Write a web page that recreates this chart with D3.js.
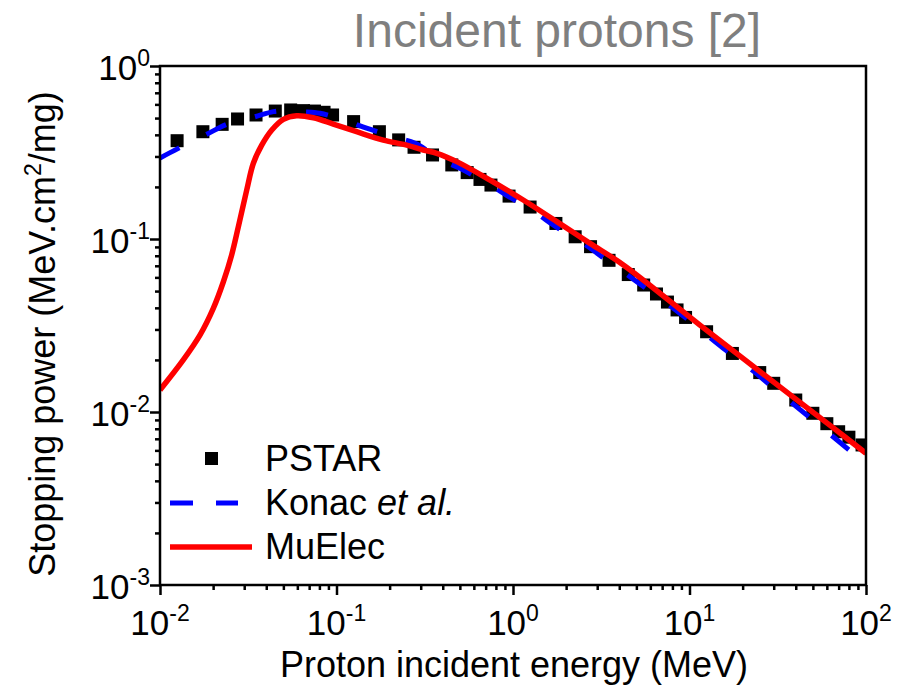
<!DOCTYPE html>
<html><head><meta charset="utf-8">
<script src="https://cdn.jsdelivr.net/npm/d3@7"></script>
<style>
html,body{margin:0;padding:0;background:#fff;}
text{font-family:"Liberation Sans",Arial,sans-serif;}
</style></head>
<body><svg id="c" width="899" height="696"></svg>
<script>
// ---- data ----
const pstarE = [0.0125,0.0175,0.0225,0.0275,0.035,0.045,0.055,0.065,0.075,0.085,0.095,0.125,0.175,0.225,0.275,0.35,0.45,0.55,0.65,0.75,0.95,1.25,1.75,2.25,2.75,3.5,4.5,5.5,6.5,7.5,8.5,9.5,12.5,17.5,25,30,40,50,60,70,80,95];
const pstarS = [0.370,0.417,0.460,0.494,0.521,0.549,0.557,0.552,0.549,0.540,0.521,0.477,0.417,0.374,0.339,0.306,0.268,0.242,0.221,0.205,0.177,0.153,0.123,0.103,0.0903,0.0753,0.0623,0.0542,0.0481,0.0432,0.0389,0.0352,0.0291,0.0218,0.0169,0.01465,0.01173,0.00983,0.00856,0.00769,0.00715,0.00645];

const konacE = [0.01,0.0127,0.0184,0.0239,0.0345,0.0439,0.055,0.0635,0.0807,0.117,0.148,0.219,0.279,0.394,0.501,0.741,0.920,1.36,1.69,2.50,3.18,4.60,5.85,8.45,10.7,15.6,19.8,28.6,36.3,52.6,66.7,100];
const konacS = [0.294,0.334,0.403,0.460,0.509,0.545,0.552,0.545,0.533,0.477,0.437,0.385,0.357,0.286,0.256,0.205,0.179,0.141,0.1205,0.0944,0.0791,0.0605,0.0507,0.0385,0.0318,0.0233,0.01954,0.01432,0.01172,0.00861,0.00705,0.00500];

const muE = [0.01,0.01355,0.01687,0.02004,0.02286,0.02547,0.0278,0.0310,0.0338,0.0377,0.0430,0.0500,0.0594,0.0740,0.0959,0.130,0.184,0.250,0.310,0.370,0.480,0.741,1.143,1.77,2.73,4.22,11.46,27.35,65.3,100];
const muS = [0.0134,0.0200,0.0279,0.0397,0.0566,0.0809,0.1178,0.192,0.274,0.349,0.427,0.492,0.516,0.502,0.462,0.417,0.373,0.349,0.327,0.313,0.280,0.219,0.168,0.126,0.0944,0.0708,0.0318,0.0160,0.00809,0.00577];

const xMajor = [0.01,0.1,1,10,100];
const xExp = ["-2","-1","0","1","2"];
const yMajor = [0.001,0.01,0.1,1];
const yExp = ["-3","-2","-1","0"];

const titleText = "Incident protons [2]";
const xTitle = "Proton incident energy (MeV)";

// ---- layout ----
const L=160, R=866, T=66, B=585;
const svg = d3.select("#c");
const x = d3.scaleLog().domain([0.01,100]).range([L,R]);
const y = d3.scaleLog().domain([0.001,1]).range([B,T]);

function minors(lo,hi){const m=[];for(let p=lo;p<hi;p++){for(let k=2;k<=9;k++)m.push(k*Math.pow(10,p));}return m;}
const xMinor = minors(-2,2), yMinor = minors(-3,0);

// clip
svg.append("defs").append("clipPath").attr("id","clip").append("rect")
  .attr("x",L).attr("y",T).attr("width",R-L).attr("height",B-T);

// title
svg.append("text").attr("x",557).attr("y",47).attr("text-anchor","middle")
  .attr("font-size",48).attr("fill","#7f7f7f").text(titleText);

// axes ticks
const axStyle = g => { g.selectAll("path").remove(); g.selectAll("line").attr("stroke","#000").attr("stroke-width",2.5); g.selectAll("text").remove(); };
svg.append("g").attr("transform",`translate(0,${B})`).call(d3.axisBottom(x).tickValues(xMajor).tickSize(10).tickFormat("")).call(axStyle);
svg.append("g").attr("transform",`translate(0,${B})`).call(d3.axisBottom(x).tickValues(xMinor).tickSize(5).tickFormat("")).call(axStyle);
svg.append("g").attr("transform",`translate(${L},0)`).call(d3.axisLeft(y).tickValues(yMajor).tickSize(10).tickFormat("")).call(axStyle);
svg.append("g").attr("transform",`translate(${L},0)`).call(d3.axisLeft(y).tickValues(yMinor).tickSize(5).tickFormat("")).call(axStyle);

// tick labels
xMajor.forEach((v,i)=>{
  const t = svg.append("text").attr("x",x(v)).attr("y",635).attr("text-anchor","middle").attr("font-size",35);
  t.append("tspan").text("10");
  t.append("tspan").attr("font-size",23).attr("dy",-14).text(xExp[i]);
});
yMajor.forEach((v,i)=>{
  const t = svg.append("text").attr("x",150).attr("y",y(v)+14).attr("text-anchor","end").attr("font-size",35);
  t.append("tspan").text("10");
  t.append("tspan").attr("font-size",23).attr("dy",-14).text(yExp[i]);
});

// axis titles
svg.append("text").attr("x",514).attr("y",677).attr("text-anchor","middle").attr("font-size",36).text(xTitle);
const yt = svg.append("text").attr("transform","translate(55,334) rotate(-90)").attr("text-anchor","middle").attr("font-size",36);
yt.append("tspan").text("Stopping power (MeV.cm");
yt.append("tspan").attr("font-size",23).attr("dy",-14).text("2");
yt.append("tspan").attr("dy",14).text("/mg)");

// data
const plot = svg.append("g").attr("clip-path","url(#clip)");
plot.selectAll("rect.pt").data(pstarE.map((e,i)=>[e,pstarS[i]])).join("rect")
  .attr("class","pt").attr("x",d=>x(d[0])-6.5).attr("y",d=>y(d[1])-6.5)
  .attr("width",13).attr("height",13).attr("fill","#000");

const line = d3.line().x(d=>x(d[0])).y(d=>y(d[1])).curve(d3.curveCatmullRom.alpha(0.5));
plot.append("path").datum(konacE.map((e,i)=>[e,konacS[i]])).attr("d",line)
  .attr("fill","none").attr("stroke","#0000ff").attr("stroke-width",5).attr("stroke-dasharray","22,30");
plot.append("path").datum(muE.map((e,i)=>[e,muS[i]])).attr("d",line)
  .attr("fill","none").attr("stroke","#ff0000").attr("stroke-width",5.5).attr("stroke-linejoin","round");

// frame
svg.append("rect").attr("x",L).attr("y",T).attr("width",R-L).attr("height",B-T)
  .attr("fill","none").attr("stroke","#000").attr("stroke-width",2.5);

// legend
const lg = svg.append("g");
lg.append("rect").attr("x",205).attr("y",452).attr("width",13).attr("height",13).attr("fill","#000");
lg.append("text").attr("x",265).attr("y",471).attr("font-size",36).text("PSTAR");
lg.append("line").attr("x1",170).attr("x2",238).attr("y1",503).attr("y2",503)
  .attr("stroke","#0000ff").attr("stroke-width",5).attr("stroke-dasharray","23,23");
const kt = lg.append("text").attr("x",265).attr("y",515).attr("font-size",36);
kt.append("tspan").text("Konac ");
kt.append("tspan").attr("font-style","italic").text("et al.");
lg.append("line").attr("x1",170).attr("x2",252).attr("y1",547).attr("y2",547)
  .attr("stroke","#ff0000").attr("stroke-width",5.5);
lg.append("text").attr("x",265).attr("y",559).attr("font-size",36).text("MuElec");
</script></body></html>
